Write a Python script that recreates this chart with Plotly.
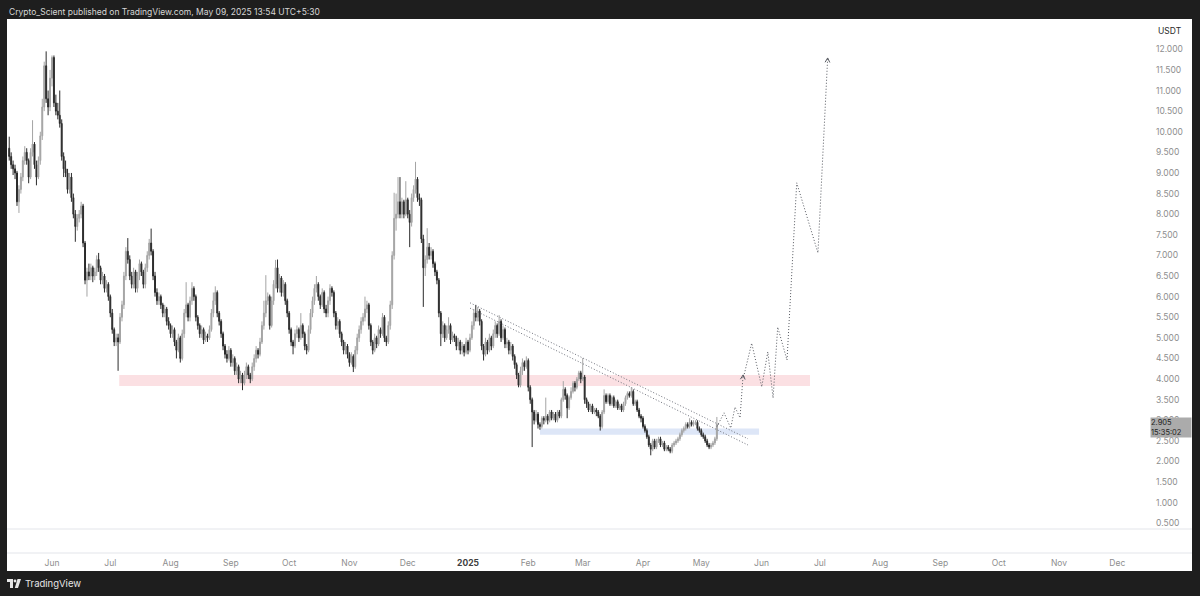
import numpy as np
import pandas as pd
import plotly.graph_objects as go

# daily candles, 2024-05-10 .. 2025-05-09
first_open = 9.6
closes = [
    9.4, 9.2, 9.1, 9.0, 8.3, 8.6, 8.9, 9.3, 9.5, 9.3,
    8.9, 9.5, 9.7, 9.2, 8.9, 9.3, 9.9, 10.6, 11.6, 10.8,
    10.6, 11.3, 11.8, 10.7, 10.5, 10.4, 10.2, 9.4, 9.1, 9.0,
    8.6, 8.9, 8.4, 8.0, 7.7, 7.9, 8.0, 8.2, 7.3, 6.4,
    6.6, 6.5, 6.7, 6.5, 6.6, 6.9, 6.7, 6.4, 6.5, 6.2,
    6.3, 6.0, 5.6, 5.2, 4.9, 5.0, 4.9, 5.5, 5.8, 6.5,
    7.1, 6.9, 6.5, 6.3, 6.6, 6.2, 6.5, 6.8, 6.6, 6.3,
    6.7, 7.0, 7.3, 7.1, 6.5, 6.1, 5.9, 6.0, 5.8, 5.6,
    5.7, 5.4, 5.3, 5.1, 5.2, 4.9, 4.7, 5.0, 4.5, 5.1,
    5.6, 5.8, 5.5, 5.9, 6.2, 6.0, 5.5, 5.3, 5.1, 5.2,
    4.95, 5.05, 5.0, 5.2, 5.6, 5.9, 6.1, 5.6, 5.4, 5.1,
    4.8, 4.6, 4.5, 4.7, 4.4, 4.5, 4.2, 4.3, 4.0, 4.1,
    3.9, 4.1, 4.3, 4.1, 4.0, 4.3, 4.5, 4.7, 4.6, 4.9,
    5.3, 5.6, 5.9, 6.0, 5.3, 5.9, 6.3, 6.7, 6.2, 6.45,
    6.1, 6.3, 5.9, 5.6, 5.2, 4.9, 4.8, 5.1, 5.2, 5.0,
    5.3, 5.1, 4.8, 4.7, 5.2, 5.6, 5.9, 6.2, 6.3, 6.0,
    5.8, 6.1, 5.7, 5.6, 5.9, 6.2, 6.1, 5.6, 5.3, 5.4,
    5.1, 4.9, 4.7, 4.8, 4.6, 4.4, 4.55, 4.3, 4.7, 5.0,
    5.2, 5.4, 5.5, 5.7, 5.8, 5.3, 4.9, 4.7, 5.0, 4.85,
    5.2, 5.1, 5.5, 5.0, 4.9, 5.3, 5.8, 7.0, 7.9, 8.0,
    8.3, 8.0, 8.3, 8.0, 8.35, 8.0, 7.8, 8.4, 8.6, 8.85,
    8.4, 8.35, 7.4, 6.7, 6.9, 7.2, 7.0, 7.1, 6.8, 6.6,
    6.4, 5.6, 5.1, 5.3, 5.0, 5.2, 5.3, 4.95, 5.05, 5.0,
    4.8, 4.9, 4.7, 4.8, 4.65, 4.9, 4.7, 5.0, 5.3, 5.6,
    5.5, 5.65, 5.4, 4.8, 4.6, 4.9, 4.7, 5.0, 4.8, 5.1,
    5.3, 5.1, 5.4, 5.0, 5.2, 4.85, 4.9, 4.7, 4.8, 4.55,
    4.35, 4.1, 3.85, 4.2, 4.4, 4.3, 4.45, 3.8, 3.5, 3.2,
    3.0, 3.15, 2.9, 2.85, 3.05, 3.0, 3.1, 3.0, 3.2, 3.05,
    3.15, 3.0, 3.2, 3.1, 3.5, 3.75, 3.6, 3.3, 3.55, 3.7,
    3.9, 3.8, 4.0, 4.15, 4.0, 4.05, 3.5, 3.4, 3.25, 3.35,
    3.2, 3.25, 3.2, 3.1, 2.85, 3.2, 3.6, 3.45, 3.6, 3.4,
    3.55, 3.35, 3.45, 3.3, 3.35, 3.25, 3.4, 3.55, 3.65, 3.6,
    3.7, 3.4, 3.45, 3.25, 3.1, 3.05, 2.85, 2.75, 2.6, 2.4,
    2.3, 2.5, 2.35, 2.5, 2.55, 2.4, 2.45, 2.3, 2.35, 2.3,
    2.25, 2.4, 2.45, 2.5, 2.55, 2.65, 2.75, 2.8, 2.9, 2.85,
    2.95, 2.9, 2.95, 2.95, 2.8, 2.75, 2.65, 2.6, 2.5, 2.4,
    2.35, 2.4, 2.45, 2.55, 2.905,
]
highs = [
    9.88, 9.5, 9.3, 9.2, 9.05, 8.7, 9.0, 9.4, 9.65, 9.6,
    9.35, 9.6, 10.28, 9.75, 9.3, 9.4, 10.0, 10.8, 11.7, 11.95,
    11.0, 11.5, 11.85, 11.85, 10.9, 10.7, 11.0, 10.3, 9.5, 9.3,
    9.1, 9.0, 9.0, 8.5, 8.1, 8.0, 8.1, 8.3, 8.25, 7.35,
    6.7, 6.8, 6.8, 6.75, 6.7, 7.0, 7.06, 6.75, 6.6, 6.55,
    6.4, 6.35, 6.05, 5.7, 5.25, 5.1, 5.1, 5.6, 5.9, 6.6,
    7.2, 7.42, 7.0, 6.6, 6.7, 6.65, 6.6, 6.9, 6.85, 6.65,
    6.8, 7.1, 7.4, 7.65, 7.15, 6.6, 6.2, 6.1, 6.05, 5.85,
    5.8, 5.75, 5.5, 5.35, 5.3, 5.25, 4.95, 5.1, 5.05, 5.2,
    5.7, 6.35, 5.85, 6.0, 6.35, 6.25, 6.05, 5.55, 5.35, 5.3,
    5.25, 5.15, 5.1, 5.3, 5.7, 6.1, 6.25, 6.15, 5.65, 5.45,
    5.15, 4.85, 4.7, 4.8, 4.75, 4.6, 4.55, 4.4, 4.35, 4.2,
    4.15, 4.2, 4.4, 4.35, 4.15, 4.4, 4.6, 4.8, 4.75, 5.0,
    5.4, 5.9, 6.52, 6.1, 6.05, 6.0, 6.4, 6.89, 6.9, 6.55,
    6.5, 6.4, 6.35, 5.95, 5.65, 5.25, 4.95, 5.2, 5.3, 5.25,
    5.6, 5.35, 5.15, 4.85, 5.3, 5.7, 6.0, 6.3, 6.5, 6.35,
    6.05, 6.2, 6.15, 5.8, 6.0, 6.3, 6.25, 6.15, 5.65, 5.5,
    5.45, 5.15, 4.95, 4.9, 4.85, 4.65, 4.65, 4.6, 4.8, 5.1,
    5.3, 5.5, 5.6, 6.0, 5.9, 5.85, 5.35, 4.95, 5.1, 5.05,
    5.3, 5.25, 5.6, 5.55, 5.05, 5.4, 5.9, 7.1, 8.52, 8.5,
    8.9, 8.9, 8.4, 8.35, 8.8, 8.4, 8.1, 8.5, 8.7, 9.27,
    8.9, 8.5, 8.4, 7.5, 7.0, 7.66, 7.3, 7.2, 7.15, 6.85,
    6.65, 6.45, 5.65, 5.4, 5.35, 5.3, 5.5, 5.35, 5.15, 5.1,
    5.05, 5.0, 4.95, 4.9, 4.85, 5.0, 4.95, 5.1, 5.4, 5.7,
    5.8, 5.75, 5.7, 5.45, 4.85, 5.0, 4.95, 5.1, 5.05, 5.2,
    5.4, 5.35, 5.55, 5.45, 5.3, 5.25, 5.0, 4.95, 4.9, 4.85,
    4.6, 4.4, 4.15, 4.3, 4.5, 4.45, 4.55, 4.5, 3.85, 3.55,
    3.25, 3.25, 3.2, 2.95, 3.1, 3.1, 3.55, 3.15, 3.25, 3.25,
    3.2, 3.2, 3.25, 3.25, 3.55, 3.95, 3.8, 3.65, 3.6, 3.8,
    3.95, 3.95, 4.05, 4.2, 4.2, 4.51, 4.1, 3.55, 3.45, 3.4,
    3.4, 3.3, 3.3, 3.25, 3.15, 3.25, 3.75, 3.65, 3.65, 3.65,
    3.6, 3.6, 3.5, 3.5, 3.4, 3.4, 3.45, 3.6, 3.7, 3.7,
    3.8, 3.75, 3.5, 3.5, 3.3, 3.15, 3.1, 2.9, 2.8, 2.65,
    2.45, 2.55, 2.55, 2.55, 2.6, 2.6, 2.5, 2.5, 2.4, 2.4,
    2.35, 2.45, 2.5, 2.55, 2.6, 2.7, 2.8, 2.85, 2.95, 2.95,
    3.05, 3.0, 3.0, 3.0, 3.0, 2.85, 2.8, 2.7, 2.65, 2.55,
    2.45, 2.45, 2.5, 2.6, 3.08,
]
lows = [
    9.3, 9.1, 8.95, 8.85, 8.2, 8.03, 8.5, 8.8, 9.2, 9.2,
    8.75, 8.85, 9.4, 9.1, 8.7, 8.85, 9.2, 9.8, 10.5, 10.7,
    10.4, 10.5, 11.1, 10.6, 10.4, 10.3, 10.1, 9.3, 8.9, 8.9,
    8.5, 8.5, 8.3, 7.9, 7.33, 7.6, 7.8, 7.9, 7.2, 6.3,
    6.0, 6.4, 6.4, 6.35, 6.4, 6.5, 6.6, 6.3, 6.3, 6.1,
    6.1, 5.9, 5.5, 5.1, 4.8, 4.8, 4.2, 4.85, 5.4, 5.7,
    6.4, 6.8, 6.4, 6.2, 6.2, 6.1, 6.1, 6.4, 6.5, 6.2,
    6.2, 6.6, 6.9, 7.0, 6.4, 6.0, 5.8, 5.8, 5.7, 5.5,
    5.5, 5.3, 5.2, 5.0, 5.0, 4.8, 4.5, 4.65, 4.4, 4.45,
    5.0, 5.5, 5.4, 5.4, 5.8, 5.9, 5.4, 5.2, 5.0, 5.0,
    4.85, 4.9, 4.9, 4.95, 5.15, 5.5, 5.8, 5.5, 5.3, 5.0,
    4.7, 4.5, 4.4, 4.45, 4.3, 4.3, 4.1, 4.1, 3.9, 3.9,
    3.73, 3.85, 4.0, 4.0, 3.9, 3.95, 4.2, 4.4, 4.5, 4.55,
    4.85, 5.2, 5.5, 5.8, 5.2, 5.25, 5.8, 6.2, 6.1, 6.1,
    6.0, 6.0, 5.8, 5.5, 5.1, 4.8, 4.6, 4.75, 5.0, 4.9,
    4.95, 5.0, 4.7, 4.6, 4.65, 5.1, 5.5, 5.8, 6.1, 5.9,
    5.7, 5.75, 5.6, 5.5, 5.5, 5.8, 6.0, 5.5, 5.2, 5.2,
    5.0, 4.8, 4.6, 4.6, 4.5, 4.3, 4.35, 4.17, 4.25, 4.6,
    4.9, 5.1, 5.3, 5.4, 5.6, 5.2, 4.8, 4.6, 4.65, 4.75,
    4.8, 5.0, 5.05, 4.9, 4.8, 4.85, 5.2, 5.7, 6.9, 7.6,
    7.9, 7.9, 7.9, 7.9, 7.95, 7.9, 7.2, 7.7, 8.3, 8.5,
    8.3, 8.2, 7.3, 5.75, 6.5, 6.8, 6.9, 6.9, 6.7, 6.5,
    6.3, 5.5, 4.8, 5.0, 4.9, 4.95, 5.1, 4.85, 4.9, 4.9,
    4.7, 4.7, 4.6, 4.6, 4.55, 4.6, 4.6, 4.65, 4.95, 5.2,
    5.4, 5.4, 5.3, 4.7, 4.45, 4.55, 4.6, 4.65, 4.7, 4.75,
    5.0, 5.0, 5.05, 4.9, 4.95, 4.75, 4.75, 4.6, 4.6, 4.45,
    4.25, 4.0, 3.8, 3.8, 4.1, 4.2, 4.25, 3.7, 3.4, 2.35,
    2.9, 2.95, 2.8, 2.77, 2.8, 2.9, 2.95, 2.9, 2.95, 3.0,
    3.0, 2.95, 2.95, 3.05, 3.05, 3.45, 3.5, 3.05, 3.25, 3.5,
    3.65, 3.7, 3.75, 3.95, 3.9, 3.95, 3.4, 3.3, 3.2, 3.2,
    3.15, 3.15, 3.1, 3.05, 2.75, 2.8, 3.15, 3.4, 3.4, 3.35,
    3.35, 3.3, 3.3, 3.25, 3.25, 3.2, 3.2, 3.35, 3.5, 3.55,
    3.55, 3.35, 3.35, 3.2, 3.05, 2.95, 2.8, 2.7, 2.55, 2.35,
    2.15, 2.25, 2.3, 2.3, 2.45, 2.35, 2.35, 2.25, 2.25, 2.25,
    2.2, 2.2, 2.35, 2.4, 2.45, 2.5, 2.6, 2.7, 2.75, 2.8,
    2.8, 2.85, 2.85, 2.88, 2.75, 2.7, 2.6, 2.55, 2.45, 2.35,
    2.3, 2.3, 2.35, 2.4, 2.5,
]

# zones and drawings
resist_zone = dict(x0="2024-07-05 14:00", x1="2025-06-25 22:00", y0=3.83, y1=4.10)
support_zone = dict(x0="2025-02-07", x1="2025-05-30 17:00", y0=2.65, y1=2.80)
trend_x = ["2025-01-02 00:45", "2025-05-25 00:00"]
trend_upper_y = [5.85, 2.55]
trend_lower_y = [5.72, 2.40]
path1_x = ["2025-05-09 02:00", "2025-05-12 17:00", "2025-05-16 03:00",
           "2025-05-18 08:00", "2025-05-20 22:00", "2025-05-22 12:00"]
path1_y = [2.85, 3.18, 2.81, 3.32, 3.06, 4.10]
path2_x = ["2025-05-22 18:00", "2025-05-26 22:00", "2025-06-01 02:00",
           "2025-06-04 05:00", "2025-06-06 22:00", "2025-06-09 07:00",
           "2025-06-14 02:00", "2025-06-19 02:00", "2025-06-30 00:00",
           "2025-07-05 00:00"]
path2_y = [4.05, 4.87, 3.81, 4.66, 3.54, 5.26, 4.46, 8.76, 7.06, 11.79]

month_ticks = ["2024-06-01", "2024-07-01", "2024-08-01", "2024-09-01", "2024-10-01",
               "2024-11-01", "2024-12-01", "2025-01-01", "2025-02-01", "2025-03-01",
               "2025-04-01", "2025-05-01", "2025-06-01", "2025-07-01", "2025-08-01",
               "2025-09-01", "2025-10-01", "2025-11-01", "2025-12-01"]
month_labels = ["Jun", "Jul", "Aug", "Sep", "Oct", "Nov", "Dec",
                "<b><span style='color:#404040'>2025</span></b>", "Feb", "Mar",
                "Apr", "May", "Jun", "Jul", "Aug", "Sep", "Oct", "Nov", "Dec"]
price_ticks = [i / 2 for i in range(1, 25)]

last_price = "2.905"
countdown = "15:35:02"

opens = [first_open] + closes[:-1]
highs = [max(h, o, c) for h, o, c in zip(highs, opens, closes)]
lows = [min(l, o, c) for l, o, c in zip(lows, opens, closes)]
dates = pd.date_range("2024-05-10", periods=len(closes), freq="D")

W, H = 1200, 596
ML, MR, MT, MB = 7, 50, 19, 43
PW, PH = W - ML - MR, H - MT - MB
x_range = [pd.Timestamp("2024-05-08 20:38"), pd.Timestamp("2025-12-17 19:12")]
y_range = [-0.22, 12.735]
px_day = PW / ((x_range[1] - x_range[0]).total_seconds() / 86400)
px_unit = PH / (y_range[1] - y_range[0])


def px(x):
    return (x - ML) / PW


def py(y):
    return (H - MB - y) / PH


def chevron(xs, ys, length=5.0, angle=28):
    # small open arrow head at the end of a path
    tip_x, tip_y = pd.Timestamp(xs[-1]), ys[-1]
    prev_x, prev_y = pd.Timestamp(xs[-2]), ys[-2]
    dx = (tip_x - prev_x).total_seconds() / 86400 * px_day
    dy = (tip_y - prev_y) * px_unit
    n = np.hypot(dx, dy)
    dx, dy = dx / n, dy / n
    out_x, out_y = [], []
    for a in (angle, None, -angle):
        if a is None:
            out_x.append(tip_x)
            out_y.append(tip_y)
            continue
        r = np.radians(a)
        ux = dx * np.cos(r) - dy * np.sin(r)
        uy = dx * np.sin(r) + dy * np.cos(r)
        out_x.append(tip_x - pd.Timedelta(days=length * ux / px_day))
        out_y.append(tip_y - length * uy / px_unit)
    return out_x, out_y


fig = go.Figure()

fig.add_trace(go.Candlestick(
    x=dates, open=opens, high=highs, low=lows, close=closes,
    increasing=dict(line=dict(color="#a4a4a4", width=1), fillcolor="#a4a4a4"),
    decreasing=dict(line=dict(color="#2b2b2b", width=1), fillcolor="#2b2b2b"),
    whiskerwidth=0, showlegend=False, hoverinfo="skip"))

for ty in (trend_upper_y, trend_lower_y):
    fig.add_trace(go.Scatter(x=trend_x, y=ty, mode="lines", showlegend=False,
                             line=dict(color="#6f727c", width=1, dash="1px,2px"),
                             hoverinfo="skip"))

for xs, ys in ((path1_x, path1_y), (path2_x, path2_y)):
    fig.add_trace(go.Scatter(x=xs, y=ys, mode="lines", showlegend=False,
                             line=dict(color="#55585f", width=1, dash="1px,2px"),
                             hoverinfo="skip"))
    cx, cy = chevron(xs, ys)
    fig.add_trace(go.Scatter(x=cx, y=cy, mode="lines", showlegend=False,
                             line=dict(color="#55585f", width=1),
                             hoverinfo="skip"))

shapes = [
    # white chart panel incl. price scale and time scale
    dict(type="rect", xref="paper", yref="paper", x0=px(7), x1=px(1192),
         y0=py(571), y1=py(19), fillcolor="white", line_width=0, layer="below"),
    dict(type="line", xref="paper", yref="paper", x0=px(7), x1=px(1192),
         y0=py(529), y1=py(529), line=dict(color="#e3e5ea", width=1)),
    dict(type="line", xref="paper", yref="paper", x0=px(7), x1=px(1192),
         y0=py(553), y1=py(553), line=dict(color="#e3e5ea", width=1)),
    dict(type="rect", xref="x", yref="y", fillcolor="#fbe0e3", line_width=0,
         layer="below", **resist_zone),
    dict(type="rect", xref="x", yref="y", fillcolor="#dde6f7", line_width=0,
         layer="below", **support_zone),
    # TradingView logo
    dict(type="path", xref="paper", yref="paper", fillcolor="#e6e6e6", line_width=0,
         path=f"M {px(7)},{py(579)} L {px(13)},{py(579)} L {px(13)},{py(588)} "
              f"L {px(10)},{py(588)} L {px(10)},{py(582)} L {px(7)},{py(582)} Z"),
    dict(type="circle", xref="paper", yref="paper", fillcolor="#e6e6e6", line_width=0,
         x0=px(13.6), x1=px(16.4), y0=py(582.4), y1=py(579.6)),
    dict(type="path", xref="paper", yref="paper", fillcolor="#e6e6e6", line_width=0,
         path=f"M {px(17.5)},{py(579)} L {px(21)},{py(579)} L {px(18)},{py(588)} "
              f"L {px(14.8)},{py(588)} Z"),
]

annotations = [
    dict(xref="paper", yref="paper", x=px(7), y=py(12), xanchor="left", yanchor="middle",
         text="Crypto_Scient published on TradingView.com, May 09, 2025 13:54 UTC+5:30",
         showarrow=False, font=dict(size=8.5, color="#d6d6d6")),
    dict(xref="paper", yref="paper", x=px(23), y=py(583), xanchor="left", yanchor="middle",
         text="TradingView", showarrow=False, font=dict(size=9.5, color="#e6e6e6")),
    dict(xref="paper", yref="paper", x=px(1156), y=py(31), xanchor="left", yanchor="middle",
         text="USDT", showarrow=False, font=dict(size=8.5, color="#2a2a2a")),
    dict(xref="paper", yref="y", x=px(1150), y=2.82, xanchor="left", yanchor="middle",
         text=f"{last_price}<br>{countdown}", showarrow=False, align="left",
         bgcolor="#ababab", borderpad=0, width=40,
         font=dict(size=7.5, color="#1e1e1e")),
]

fig.update_layout(
    width=W, height=H,
    margin=dict(l=ML, r=MR, t=MT, b=MB),
    paper_bgcolor="#1e1e1e", plot_bgcolor="white",
    font=dict(family="Inter, Roboto, sans-serif"),
    shapes=shapes, annotations=annotations,
    hovermode=False, showlegend=False,
    xaxis=dict(range=x_range, type="date", rangeslider=dict(visible=False),
               showgrid=False, zeroline=False, showline=False, ticks="",
               tickvals=month_ticks, ticktext=month_labels,
               tickfont=dict(size=8.5, color="#8e8e8e"), ticklabelstandoff=3,
               fixedrange=True),
    yaxis=dict(range=y_range, side="right", showgrid=False, zeroline=False,
               showline=False, ticks="", tickvals=price_ticks, tickformat=".3f",
               tickfont=dict(size=8.5, color="#8e8e8e"), ticklabelstandoff=5,
               fixedrange=True),
)

# page body has a default 8px margin; drop it so the figure fills the window
fig.write_html("out.html", config={"displayModeBar": False},
               post_script="document.body.style.margin='0';")
